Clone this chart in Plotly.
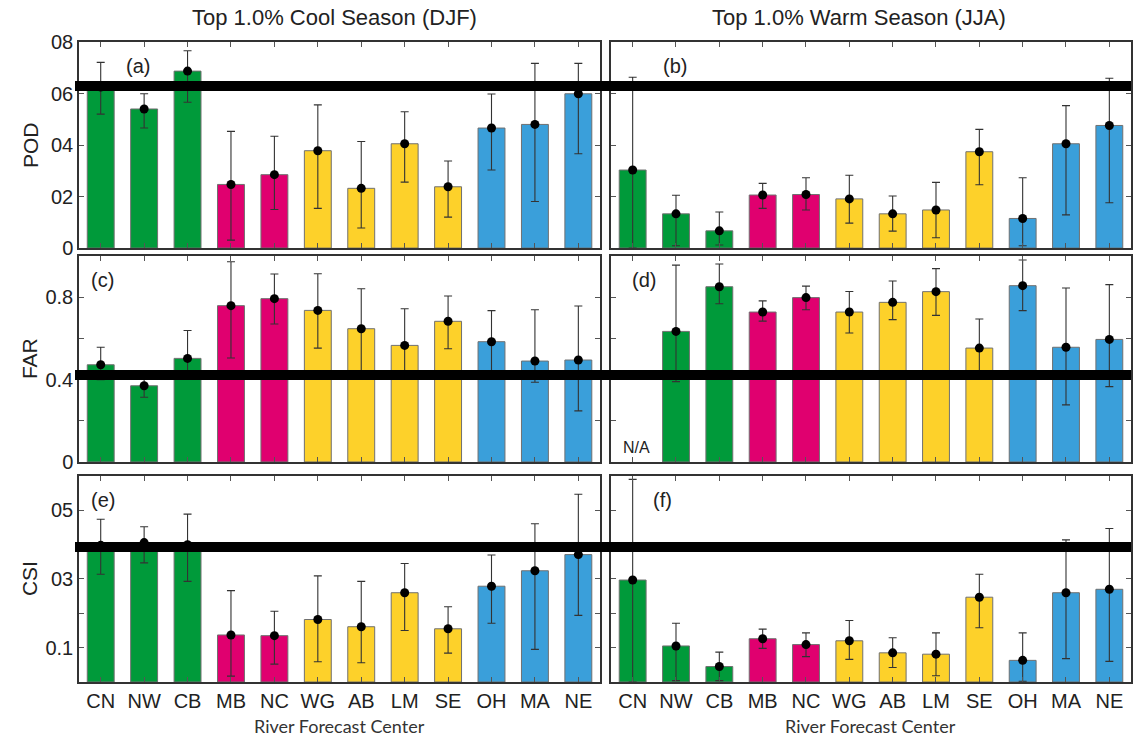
import plotly.graph_objects as go

# River Forecast Centers, west to east
centers = ["CN", "NW", "CB", "MB", "NC", "WG", "AB", "LM", "SE", "OH", "MA", "NE"]
region_colors = ["#009a3a", "#009a3a", "#009a3a",
                 "#e0006f", "#e0006f",
                 "#fdd12a", "#fdd12a", "#fdd12a", "#fdd12a",
                 "#3a9fda", "#3a9fda", "#3a9fda"]

# Probability of detection, cool season (value, upper bound, lower bound)
pod_djf = [0.625, 0.540, 0.687, 0.247, 0.285, 0.378, 0.232, 0.405, 0.238, 0.466, 0.480, 0.599]
pod_djf_hi = [0.721, 0.599, 0.766, 0.453, 0.434, 0.556, 0.414, 0.529, 0.338, 0.598, 0.717, 0.717]
pod_djf_lo = [0.520, 0.466, 0.566, 0.031, 0.150, 0.154, 0.078, 0.256, 0.120, 0.303, 0.181, 0.366]

# Probability of detection, warm season
pod_jja = [0.303, 0.133, 0.067, 0.206, 0.208, 0.191, 0.133, 0.148, 0.374, 0.115, 0.405, 0.476]
pod_jja_hi = [0.663, 0.205, 0.140, 0.251, 0.273, 0.283, 0.202, 0.255, 0.461, 0.273, 0.553, 0.659]
pod_jja_lo = [0.000, 0.009, 0.012, 0.154, 0.148, 0.097, 0.066, 0.040, 0.246, 0.009, 0.129, 0.176]

# False alarm ratio, cool season
far_djf = [0.472, 0.370, 0.503, 0.759, 0.793, 0.736, 0.647, 0.566, 0.683, 0.584, 0.490, 0.495]
far_djf_hi = [0.557, 0.405, 0.638, 0.972, 0.913, 0.914, 0.841, 0.744, 0.806, 0.735, 0.739, 0.757]
far_djf_lo = [0.400, 0.314, 0.420, 0.505, 0.670, 0.553, 0.430, 0.430, 0.550, 0.430, 0.387, 0.248]

# False alarm ratio, warm season (no CN value)
far_jja = [None, 0.634, 0.851, 0.728, 0.798, 0.728, 0.775, 0.827, 0.553, 0.856, 0.557, 0.595]
far_jja_hi = [None, 0.956, 0.961, 0.782, 0.854, 0.828, 0.879, 0.939, 0.694, 0.981, 0.845, 0.861]
far_jja_lo = [None, 0.390, 0.768, 0.684, 0.739, 0.626, 0.691, 0.712, 0.430, 0.735, 0.277, 0.366]

# Critical success index, cool season
csi_djf = [0.398, 0.406, 0.400, 0.137, 0.135, 0.182, 0.161, 0.260, 0.155, 0.279, 0.324, 0.371]
csi_djf_hi = [0.474, 0.452, 0.489, 0.266, 0.206, 0.309, 0.293, 0.345, 0.219, 0.370, 0.461, 0.547]
csi_djf_lo = [0.314, 0.347, 0.293, 0.017, 0.052, 0.059, 0.056, 0.150, 0.084, 0.171, 0.095, 0.194]

# Critical success index, warm season
csi_jja = [0.297, 0.105, 0.045, 0.126, 0.109, 0.120, 0.085, 0.081, 0.247, 0.063, 0.260, 0.270]
csi_jja_hi = [0.590, 0.171, 0.087, 0.154, 0.143, 0.179, 0.129, 0.143, 0.314, 0.143, 0.414, 0.447]
csi_jja_lo = [0.000, 0.004, 0.004, 0.098, 0.074, 0.066, 0.042, 0.018, 0.158, 0.002, 0.068, 0.060]

panels = [
    (pod_djf, pod_djf_hi, pod_djf_lo), (pod_jja, pod_jja_hi, pod_jja_lo),
    (far_djf, far_djf_hi, far_djf_lo), (far_jja, far_jja_hi, far_jja_lo),
    (csi_djf, csi_djf_hi, csi_djf_lo), (csi_jja, csi_jja_hi, csi_jja_lo),
]
panel_letters = ["(a)", "(b)", "(c)", "(d)", "(e)", "(f)"]
letter_x = [0.86, 0.97, 0.05, 0.26, 0.05, 0.70]
letter_y = 0.882

col_titles = ["Top 1.0% Cool Season (DJF)", "Top 1.0% Warm Season (JJA)"]
row_titles = ["POD", "FAR", "CSI"]
row_ranges = [[0, 0.8], [0, 1.0], [0, 0.6]]
row_tickvals = [[0, 0.2, 0.4, 0.6, 0.8],
                [0, 0.2, 0.4, 0.6, 0.8, 1.0],
                [0.1, 0.2, 0.3, 0.4, 0.5, 0.6]]
row_ticktext = [["0", "02", "04", "06", "08"],
                ["0", "", "0.4", "", "0.8", ""],
                ["0.1", "", "03", "", "05", ""]]

col_domains = [[0.0, 0.4953], [0.5057, 1.0]]
row_domains = [[0.678, 1.0], [0.3438, 0.6656], [0.0, 0.3219]]

FONT = "Liberation Sans, Arial, sans-serif"
fig = go.Figure()

for k, (vals, hi, lo) in enumerate(panels):
    r, c = divmod(k, 2)
    n = k + 1
    xa = "x" if n == 1 else f"x{n}"
    ya = "y" if n == 1 else f"y{n}"
    up = [(h - v) if v is not None else None for v, h in zip(vals, hi)]
    dn = [(v - l) if v is not None else None for v, l in zip(vals, lo)]
    fig.add_trace(go.Bar(
        x=centers, y=vals, xaxis=xa, yaxis=ya, width=0.62,
        marker=dict(color=region_colors, line=dict(color="#707070", width=1)),
        showlegend=False, hoverinfo="skip"))
    fig.add_trace(go.Scatter(
        x=centers, y=vals, xaxis=xa, yaxis=ya, mode="markers",
        marker=dict(color="black", size=9),
        error_y=dict(type="data", symmetric=False, array=up, arrayminus=dn,
                     color="#333333", thickness=1.1, width=4),
        showlegend=False, hoverinfo="skip", cliponaxis=False))

    xkey = "xaxis" if n == 1 else f"xaxis{n}"
    ykey = "yaxis" if n == 1 else f"yaxis{n}"
    fig.layout[xkey] = dict(
        domain=col_domains[c], anchor=ya, type="category",
        categoryorder="array", categoryarray=centers, range=[-0.5, 11.5],
        showline=True, linecolor="#333333", linewidth=1.5, mirror="ticks",
        ticks="inside", ticklen=5, tickcolor="#555555", tickwidth=1,
        showgrid=False, zeroline=False,
        showticklabels=(r == 2), ticklabelstandoff=0,
        tickfont=dict(family=FONT, size=20, color="#222222"))
    fig.layout[ykey] = dict(
        domain=row_domains[r], anchor=xa, range=row_ranges[r],
        tickvals=row_tickvals[r], ticktext=row_ticktext[r],
        showline=True, linecolor="#333333", linewidth=1.5, mirror="ticks",
        ticks="inside", ticklen=5, tickcolor="#555555", tickwidth=1,
        showgrid=False, zeroline=False,
        showticklabels=(c == 0),
        tickfont=dict(family=FONT, size=20, color="#222222"))

    fig.add_annotation(text=panel_letters[k], xref=xa, yref=f"{ya} domain",
                       x=letter_x[k], y=letter_y,
                       showarrow=False, xanchor="center", yanchor="middle",
                       font=dict(family=FONT, size=20, color="#222222"))

# CN has no warm-season FAR value
fig.add_annotation(text="N/A", xref="x4", yref="y4", x=0.1, y=0.07,
                   showarrow=False, xanchor="center", yanchor="middle",
                   font=dict(family=FONT, size=16, color="#222222"))

for c, t in enumerate(col_titles):
    fig.add_annotation(text=t, xref="paper", yref="paper",
                       x=[0.2429, 0.741][c], y=1.039, showarrow=False,
                       xanchor="center", yanchor="middle",
                       font=dict(family=FONT, size=22, color="#222222"))
    fig.add_annotation(text="River Forecast Center", xref="paper", yref="paper",
                       x=[0.2476, 0.7528][c], y=-0.0688, showarrow=False,
                       xanchor="center", yanchor="middle", borderpad=0,
                       font=dict(family="Lato, sans-serif", size=18, color="#333333"))

for r, t in enumerate(row_titles):
    fig.add_annotation(text=t, xref="paper", yref="paper", textangle=-90,
                       x=-0.0465, y=sum(row_domains[r]) / 2, showarrow=False,
                       xanchor="center", yanchor="middle",
                       font=dict(family=FONT, size=21, color="#222222"))

# Heavy horizontal rules across both columns
for y0, y1 in [(0.9234, 0.9391), (0.4719, 0.4875), (0.2031, 0.21875)]:
    fig.add_shape(type="rect", xref="paper", yref="paper",
                  x0=-0.0038, x1=1.0, y0=y0, y1=y1,
                  fillcolor="black", line=dict(width=0), layer="above")

fig.update_layout(
    width=1137, height=738,
    margin=dict(l=79, r=4, t=42, b=56),
    paper_bgcolor="white", plot_bgcolor="white",
    bargap=0.38,
)

fig.write_html("out.html")
